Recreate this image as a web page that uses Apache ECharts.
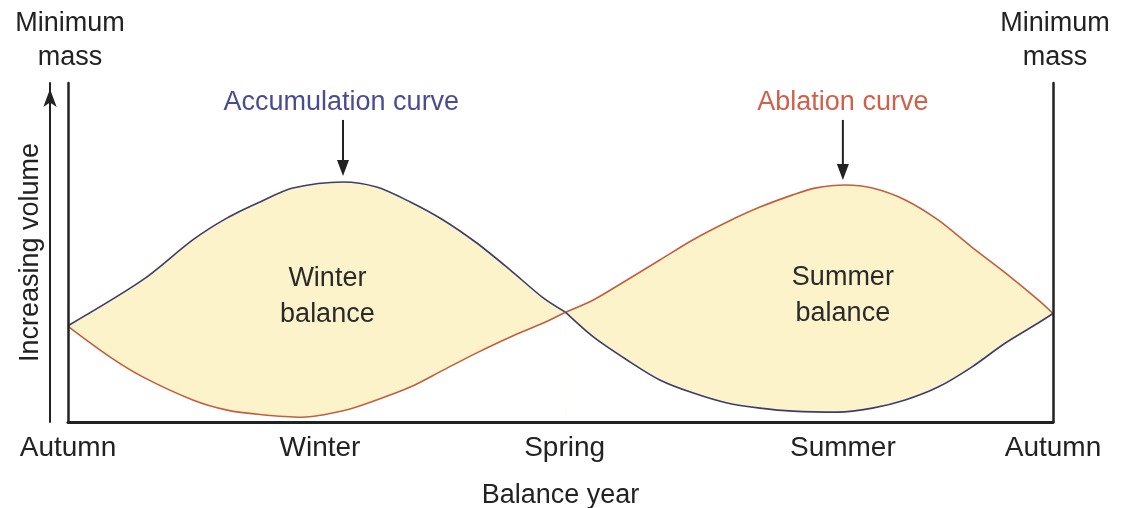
<!DOCTYPE html>
<html>
<head>
<meta charset="utf-8">
<script src="https://cdn.jsdelivr.net/npm/echarts@6/dist/echarts.min.js"></script>
<style>
  html, body { margin: 0; padding: 0; background: #fff; }
  #chart { width: 1123px; height: 508px; }
</style>
</head>
<body>
<div id="chart"></div>
<script>
// x = months from one autumn minimum (0) to the next (12), y = volume 0-100
const seasonNames = ["Autumn", "Winter", "Spring", "Summer", "Autumn"];
const seasonTicks = [0, 3.07, 6.05, 9.44, 12];

const accumWinter = [[0, 28.4], [0.91, 41.9], [1.52, 53.7], [1.94, 60.2], [2.34, 64.9], [2.74, 69.0],
  [3.35, 70.8], [3.76, 69.3], [4.17, 64.9], [4.57, 59.6], [4.98, 52.8], [5.39, 44.8], [5.79, 36.6], [6.06, 32.4]];
const ablationWinter = [[0, 28.2], [0.51, 19.2], [0.91, 13.3], [1.52, 6.5], [1.94, 3.5], [2.34, 2.2],
  [2.85, 1.4], [3.35, 3.3], [3.76, 6.5], [4.17, 10.3], [4.57, 15.3], [4.98, 20.4], [5.39, 25.1], [5.79, 29.2], [6.06, 32.4]];
const ablationSummer = [[6.06, 32.4], [6.4, 36.0], [6.81, 41.9], [7.21, 47.8], [7.61, 53.7], [8.03, 59.0],
  [8.43, 63.4], [8.83, 67.0], [9.1, 69.0], [9.47, 69.9], [9.8, 69.0], [10.2, 65.5], [10.6, 59.6], [11.01, 51.6],
  [11.42, 44.0], [11.82, 36.0], [12, 32.0]];
const accumSummer = [[6.06, 32.4], [6.4, 25.1], [6.81, 18.3], [7.21, 12.4], [7.61, 8.6], [8.03, 5.6],
  [8.43, 4.1], [8.83, 3.2], [9.38, 2.9], [9.8, 4.1], [10.2, 6.5], [10.6, 10.3], [11.01, 16.2], [11.42, 23.3],
  [11.82, 29.2], [12, 32.0]];

const notes = [
  { text: "Accumulation curve", x: 3.33, y: 94.1, color: "#4a4c93" },
  { text: "Ablation curve", x: 9.44, y: 94.1, color: "#d0604a" },
  { text: "Winter\nbalance", x: 3.16, y: 36.9, color: "#2a2a2a" },
  { text: "Summer\nbalance", x: 9.44, y: 37.2, color: "#2a2a2a" }
];
const arrows = [[3.35, 89.1, 72.6], [9.44, 89.1, 71.4]];

const FONT = "Liberation Sans, Arial, sans-serif";
const ink = "#222";

function lobe(name, data, color, fill, z) {
  return {
    name: name,
    type: "line",
    data: data,
    smooth: 0.3,
    symbol: "none",
    z: z,
    lineStyle: { color: color, width: 1.6 },
    areaStyle: { color: fill, opacity: 1 },
    silent: true
  };
}

const chart = echarts.init(document.getElementById("chart"));
chart.setOption({
  animation: false,
  textStyle: { fontFamily: FONT },
  grid: { left: 68, right: 70, top: 83, bottom: 86, outerBoundsMode: "none" },
  xAxis: {
    type: "value",
    min: 0,
    max: 12,
    z: 5,
    name: "Balance year",
    nameLocation: "middle",
    nameGap: 60,
    nameTextStyle: { fontSize: 27, color: ink },
    axisLine: { lineStyle: { color: ink, width: 3 } },
    axisTick: { show: false },
    splitLine: { show: false },
    axisLabel: {
      customValues: seasonTicks,
      formatter: (v) => seasonNames[seasonTicks.indexOf(v)],
      fontSize: 28,
      color: ink,
      margin: 12
    }
  },
  yAxis: [
    {
      type: "value", min: 0, max: 100, z: 5,
      name: "Increasing volume",
      nameLocation: "middle",
      nameGap: 24,
      nameRotate: 90,
      nameTextStyle: { fontSize: 27, color: ink },
      axisLine: { show: true, lineStyle: { color: ink, width: 2.5 } },
      axisTick: { show: false }, axisLabel: { show: false }, splitLine: { show: false }
    },
    {
      type: "value", min: 0, max: 100, position: "right", z: 5,
      axisLine: { show: true, lineStyle: { color: ink, width: 2.5 } },
      axisTick: { show: false }, axisLabel: { show: false }, splitLine: { show: false }
    },
    {
      type: "value", min: 0, max: 100, position: "left", offset: 18, z: 5,
      axisLine: {
        show: true, symbol: ["none", "arrow"], symbolSize: [10, 18], symbolOffset: [0, -6],
        lineStyle: { color: ink, width: 2 }
      },
      axisTick: { show: false }, axisLabel: { show: false }, splitLine: { show: false }
    }
  ],
  series: [
    lobe("Accumulation", accumWinter, "#3b3d6e", "#fcf3cb", 2),
    lobe("Ablation", ablationWinter, "#c0603e", "#ffffff", 3),
    lobe("Ablation", ablationSummer, "#c0603e", "#fcf3cb", 2),
    lobe("Accumulation", accumSummer, "#3b3d6e", "#ffffff", 3)
  ]
});

// annotations placed through the chart's own scales
const graphics = [];
notes.forEach((n) => {
  const p = chart.convertToPixel({ gridIndex: 0 }, [n.x, n.y]);
  graphics.push({
    type: "text", x: p[0], y: p[1], z: 20,
    style: { text: n.text, fill: n.color, font: "27px " + FONT, align: "center", verticalAlign: "middle", lineHeight: 36 }
  });
});
arrows.forEach((a) => {
  const top = chart.convertToPixel({ gridIndex: 0 }, [a[0], a[1]]);
  const tip = chart.convertToPixel({ gridIndex: 0 }, [a[0], a[2]]);
  graphics.push({
    type: "line", z: 20,
    shape: { x1: top[0], y1: top[1], x2: tip[0], y2: tip[1] - 12 },
    style: { stroke: ink, lineWidth: 2 }
  });
  graphics.push({
    type: "polygon", z: 20,
    shape: { points: [[tip[0] - 6, tip[1] - 16], [tip[0] + 6, tip[1] - 16], [tip[0], tip[1]]] },
    style: { fill: ink }
  });
});
[0, 12].forEach((x) => {
  const p = chart.convertToPixel({ gridIndex: 0 }, [x, 100]);
  graphics.push({
    type: "text", x: p[0] + 2, y: p[1] - 42, z: 20,
    style: { text: "Minimum\nmass", fill: ink, font: "27px " + FONT, align: "center", verticalAlign: "middle", lineHeight: 34 }
  });
});
chart.setOption({ graphic: graphics });
</script>
</body>
</html>
